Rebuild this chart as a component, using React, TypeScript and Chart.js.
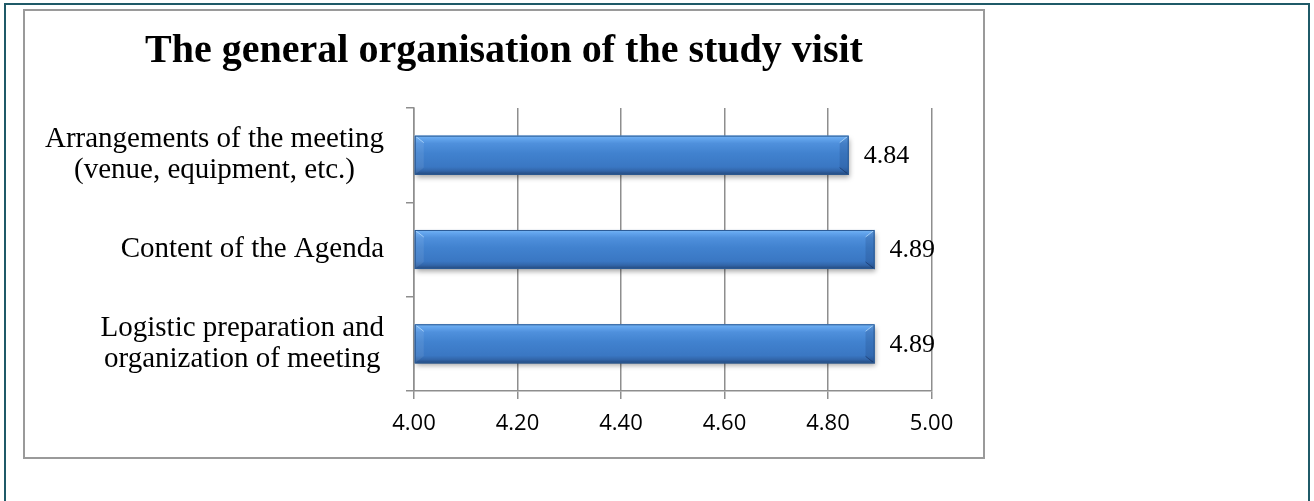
import React, { useEffect, useRef } from "react";
import { Chart, registerables } from "chart.js";

Chart.register(...registerables);

const TITLE = "The general organisation of the study visit";
const CATEGORY_LINES: string[][] = [
  ["Arrangements of the meeting", "(venue, equipment, etc.)"],
  ["Content of the Agenda"],
  ["Logistic preparation and", "organization of meeting"],
];
const VALUES: number[] = [4.84, 4.89, 4.89];
const X_TICK_LABELS: string[] = ["4.00", "4.20", "4.40", "4.60", "4.80", "5.00"];
const X_MIN = 4;
const X_MAX = 5;
const X_STEP = 0.2;

const SERIF = '"Liberation Serif", "Times New Roman", serif';
const SANS = '"Open Sans", "Liberation Sans", sans-serif';

const bevelPlugin = {
  id: "bevelBars",
  afterDatasetsDraw(chart: any) {
    const ctx: CanvasRenderingContext2D = chart.ctx;
    const area = chart.chartArea;
    const meta = chart.getDatasetMeta(0);
    meta.data.forEach((el: any, i: number) => {
      const p = el.getProps(["x", "y", "base", "height"], true);
      const l = Math.max(Math.min(p.x, p.base), area.left);
      const r = Math.max(p.x, p.base);
      const t = p.y - p.height / 2;
      const b = p.y + p.height / 2;
      const g = ctx.createLinearGradient(0, t, 0, b);
      g.addColorStop(0, "#7ab8f4");
      g.addColorStop(0.07, "#64a6ee");
      g.addColorStop(0.2, "#4f90dc");
      g.addColorStop(0.45, "#4182cf");
      g.addColorStop(0.8, "#3a77c3");
      g.addColorStop(0.9, "#3266aa");
      g.addColorStop(1, "#23477a");
      ctx.save();
      ctx.shadowColor = "rgba(0,0,0,0.35)";
      ctx.shadowBlur = 5;
      ctx.shadowOffsetX = 1;
      ctx.shadowOffsetY = 3;
      ctx.fillStyle = g;
      ctx.fillRect(l, t, r - l, b - t);
      ctx.restore();

      const bw = 9;
      const bh = 7;
      ctx.save();
      // right end face
      ctx.beginPath();
      ctx.moveTo(r, t);
      ctx.lineTo(r, b);
      ctx.lineTo(r - bw, b - bh);
      ctx.lineTo(r - bw, t + bh);
      ctx.closePath();
      ctx.fillStyle = "rgba(20,50,100,0.18)";
      ctx.fill();
      // left end face
      ctx.beginPath();
      ctx.moveTo(l, t);
      ctx.lineTo(l + bw, t + bh);
      ctx.lineTo(l + bw, b - bh);
      ctx.lineTo(l, b);
      ctx.closePath();
      ctx.fillStyle = "rgba(255,255,255,0.08)";
      ctx.fill();
      // diagonals
      ctx.lineWidth = 1;
      ctx.strokeStyle = "rgba(190,225,255,0.7)";
      ctx.beginPath();
      ctx.moveTo(r, t);
      ctx.lineTo(r - bw, t + bh);
      ctx.moveTo(l, t);
      ctx.lineTo(l + bw, t + bh);
      ctx.stroke();
      ctx.strokeStyle = "rgba(20,45,90,0.6)";
      ctx.beginPath();
      ctx.moveTo(r, b);
      ctx.lineTo(r - bw, b - bh);
      ctx.stroke();
      // outline
      ctx.strokeStyle = "#2b5a94";
      ctx.lineWidth = 1;
      ctx.strokeRect(l + 0.5, t + 0.5, r - l - 1, b - t - 1);
      ctx.restore();

      // value label
      ctx.save();
      ctx.font = `26px ${SERIF}`;
      ctx.fillStyle = "#000";
      ctx.textAlign = "left";
      ctx.textBaseline = "middle";
      ctx.fillText(VALUES[i].toFixed(2), r + 15, p.y + 1);
      ctx.restore();
    });
  },
};

const categoryLabelPlugin = {
  id: "categoryLabels",
  afterDraw(chart: any) {
    const ctx: CanvasRenderingContext2D = chart.ctx;
    const yScale = chart.scales.y;
    const rightEdge = yScale.right - 8 - 22;
    const lh = 31;
    ctx.save();
    ctx.font = `29px ${SERIF}`;
    ctx.fillStyle = "#000";
    ctx.textAlign = "center";
    ctx.textBaseline = "alphabetic";
    CATEGORY_LINES.forEach((lines, i) => {
      const cy = yScale.getPixelForTick(i);
      const widest = Math.max(...lines.map((s) => ctx.measureText(s).width));
      const cx = rightEdge - widest / 2;
      const n = lines.length;
      lines.forEach((s, j) => {
        ctx.fillText(s, cx, cy + (j - (n - 1) / 2) * lh + 7.5);
      });
    });
    ctx.restore();
  },
};

export default function App() {
  const ref = useRef<HTMLCanvasElement>(null);

  useEffect(() => {
    const canvas = ref.current;
    if (!canvas) return;
    const gridColor = "#8e8e8e";
    const chart = new Chart(canvas, {
      type: "bar",
      data: {
        labels: CATEGORY_LINES.map((l) => l.join(" ")),
        datasets: [
          {
            data: VALUES,
            base: X_MIN,
            backgroundColor: "#3f7fcc",
            borderWidth: 0,
            categoryPercentage: 1,
            barPercentage: 0.414,
          } as any,
        ],
      },
      options: {
        indexAxis: "y",
        animation: false,
        responsive: false,
        devicePixelRatio: 1,
        layout: { padding: { left: 51.5, right: 51.5, top: 0, bottom: 16 } },
        plugins: {
          legend: { display: false },
          tooltip: { enabled: false },
          title: {
            display: true,
            text: TITLE,
            color: "#000",
            font: { family: SERIF, size: 40, weight: "bold", lineHeight: 1.2 },
            padding: { top: 16.5, bottom: 32.5 },
          },
        },
        scales: {
          x: {
            type: "linear",
            min: X_MIN,
            max: X_MAX,
            ticks: {
              stepSize: X_STEP,
              color: "#000",
              font: { family: SANS, size: 22 },
              padding: 12,
              maxRotation: 0,
              callback: (v: any, i: number) => X_TICK_LABELS[i] ?? Number(v).toFixed(2),
            },
            grid: {
              color: gridColor,
              lineWidth: 1.5,
              drawTicks: true,
              tickLength: 8,
            },
            border: { display: true, color: gridColor, width: 1.5 },
            afterFit: (s: any) => {
              s.height = 50;
            },
          },
          y: {
            type: "category",
            offset: true,
            ticks: { display: false },
            grid: {
              offset: true,
              drawOnChartArea: false,
              drawTicks: true,
              tickLength: 8,
              color: gridColor,
              lineWidth: 1.5,
            },
            border: { display: true, color: gridColor, width: 1.5 },
            afterFit: (s: any) => {
              s.width = 337.5;
            },
          },
        },
      } as any,
      plugins: [bevelPlugin, categoryLabelPlugin],
    });
    return () => chart.destroy();
  }, []);

  return (
    <div
      style={{
        position: "absolute",
        left: 0,
        top: 0,
        width: 1314,
        height: 501,
        overflow: "hidden",
        background: "#fff",
      }}
    >
      <div
        style={{
          position: "absolute",
          left: 4,
          top: 3,
          width: 1306,
          height: 600,
          border: "2px solid #1f5a68",
          boxSizing: "border-box",
        }}
      />
      <div
        style={{
          position: "absolute",
          left: 23,
          top: 9,
          width: 962,
          height: 450,
          border: "2px solid #9a9a9a",
          boxSizing: "border-box",
          background: "#fff",
        }}
      >
        <canvas ref={ref} width={958} height={446} style={{ display: "block", width: 958, height: 446 }} />
      </div>
    </div>
  );
}
